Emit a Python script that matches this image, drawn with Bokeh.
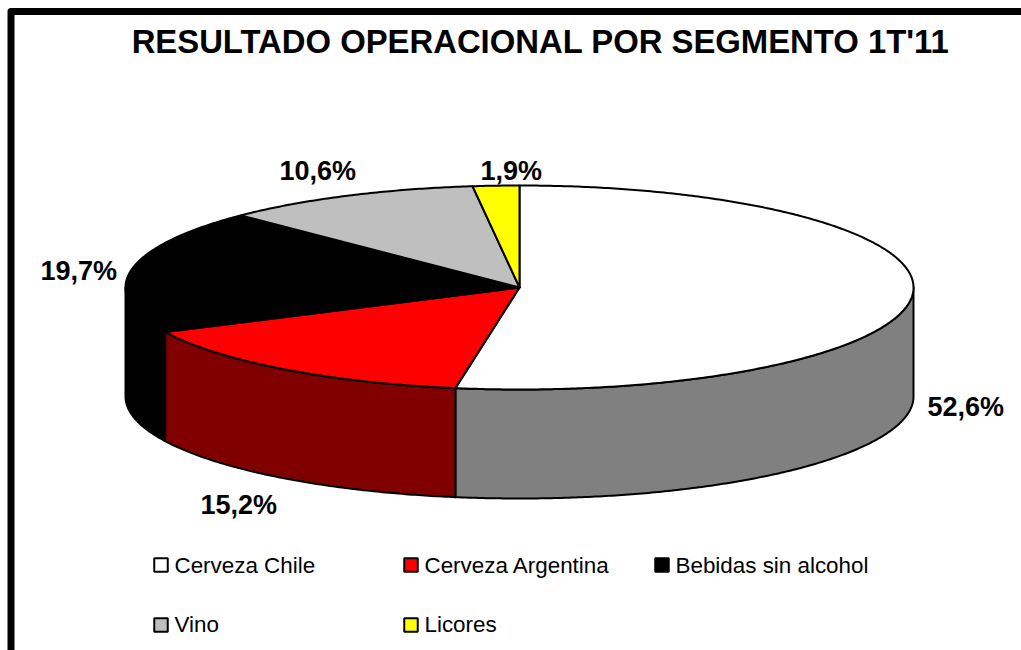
import numpy as np
from bokeh.plotting import figure
from bokeh.models import Range1d
from bokeh.core.properties import value
from bokeh.embed import file_html
from bokeh.resources import INLINE

title = "RESULTADO OPERACIONAL POR SEGMENTO 1T'11"
categories = ["Cerveza Chile", "Cerveza Argentina", "Bebidas sin alcohol", "Vino", "Licores"]
shares = [52.6, 15.2, 19.7, 10.6, 1.9]
share_labels = ["52,6%", "15,2%", "19,7%", "10,6%", "1,9%"]
top_colors = ["#FFFFFF", "#FF0000", "#000000", "#BFBFBF", "#FFFF00"]
side_colors = ["#808080", "#800000", "#000000", "#606060", "#808000"]

# layout, in page pixels
CX, CY, RX, RY, DEPTH = 519.0, 287.0, 394.0, 102.0, 109.0
label_x = [927, 200, 40, 279, 480]
label_y = [406, 504, 270, 170, 170]
legend_mx = [160.5, 410.5, 661.5, 160.5, 410.5]
legend_my = [564.5, 564.5, 564.5, 624.5, 624.5]
legend_tx = [174, 424, 675, 174, 424]
legend_ty = [565, 565, 565, 624, 624]


def arc(a0, a1, dy=0.0):
    n = max(2, int(abs(a1 - a0) * 2) + 2)
    t = np.radians(np.linspace(a0, a1, n))
    return list(CX + RX * np.sin(t)), list(CY + dy - RY * np.cos(t))


p = figure(width=1021, height=650, output_backend="svg", toolbar_location=None,
           x_range=Range1d(0, 1021), y_range=Range1d(650, 0), min_border=0,
           outline_line_color=None, background_fill_color="white")
p.xaxis.visible = False
p.yaxis.visible = False
p.grid.visible = False

# frame
p.line([10.5, 10.5, 1021], [650, 11, 11], line_color="black", line_width=7, line_join="round")

bounds = np.concatenate([[0], np.cumsum(shares)]) / sum(shares) * 360.0

# side wall
sx, sy, sc = [], [], []
for i in range(len(shares)):
    a0, a1 = max(bounds[i], 90.0), min(bounds[i + 1], 270.0)
    if a1 <= a0:
        continue
    xa, ya = arc(a0, a1)
    xb, yb = arc(a1, a0, DEPTH)
    sx.append(xa + xb)
    sy.append(ya + yb)
    sc.append(side_colors[i])
p.patches(sx, sy, fill_color=sc, line_color="black", line_width=2, line_join="round")

# top face
tx, ty = [], []
for i in range(len(shares)):
    xa, ya = arc(bounds[i], bounds[i + 1])
    tx.append([CX] + xa)
    ty.append([CY] + ya)
p.patches(tx, ty, fill_color=top_colors, line_color="black", line_width=2, line_join="round")

# percentage labels
p.text(label_x, label_y, text=share_labels, text_font=value("Liberation Sans"),
       text_font_style="bold", text_font_size="27px", text_color="black",
       text_align="left", text_baseline="alphabetic")

# title
p.text([540], [41], text=[title], text_font=value("Liberation Sans"),
       text_font_style="bold", text_font_size="32.84px", text_color="black",
       text_align="center", text_baseline="alphabetic")

# legend
p.scatter(legend_mx, legend_my, marker="square", size=13.5, fill_color=top_colors,
          line_color="black", line_width=2)
p.text(legend_tx, legend_ty, text=categories, text_font=value("Liberation Sans"),
       text_font_size="22.4px", text_color="black",
       text_align="left", text_baseline="alphabetic")

open("out.html", "w").write(file_html(p, INLINE))
